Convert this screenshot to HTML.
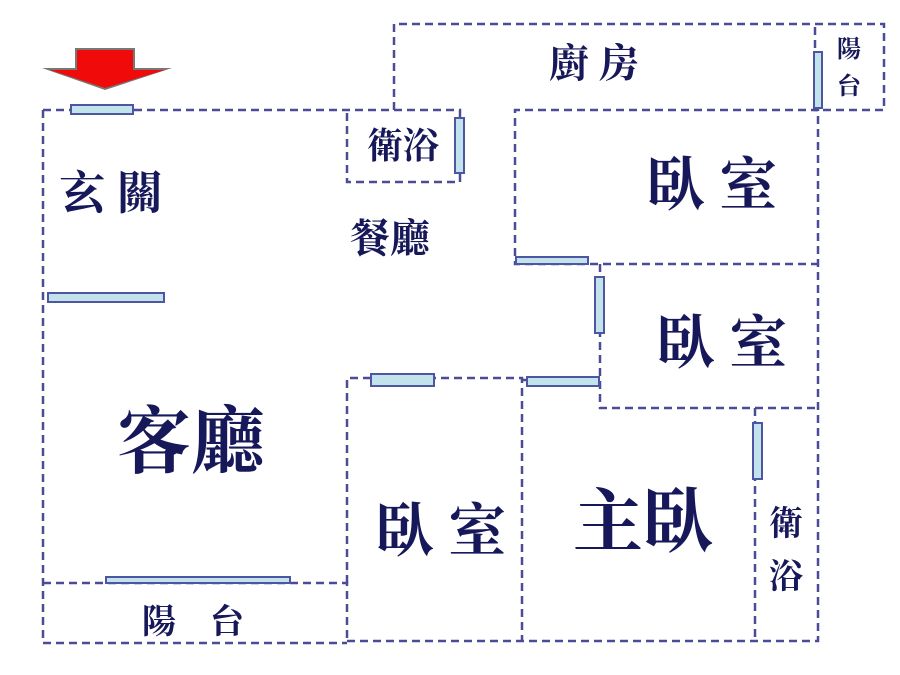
<!DOCTYPE html>
<html><head><meta charset="utf-8"><style>
html,body{margin:0;padding:0;background:#fff;}
svg{display:block}
text{font-family:"Liberation Serif","Noto Serif CJK SC","Noto Serif CJK TC",serif;fill:#17185a;font-weight:bold;text-anchor:middle;}
</style></head><body>
<svg width="900" height="675" viewBox="0 0 900 675" xmlns="http://www.w3.org/2000/svg">
<g fill="none" stroke="#4b4b96" stroke-width="2.5" stroke-dasharray="8,5">
<path d="M43 110 H460 V182 H347 V110"/>
<path d="M43 110 V643 H347"/>
<path d="M43 583 H347 V643"/>
<path d="M347 641 H818 V110 H515 V264 H818"/>
<path d="M394 110 V24 H884 V110 H815 V24"/>
<path d="M600 264 V408 H818"/>
<path d="M755 408 V641"/>
<path d="M347 583 V378 H522 V641"/>
<path d="M522 380 H600"/>
</g>
<g fill="#c3e3ec" stroke="#4e55a3" stroke-width="2">
<rect x="71" y="105" width="62" height="9"/>
<rect x="48" y="293" width="116" height="9"/>
<rect x="455" y="118" width="9" height="55"/>
<rect x="814" y="52" width="8" height="56"/>
<rect x="516" y="257" width="72" height="7"/>
<rect x="595" y="277" width="9" height="56"/>
<rect x="527" y="377" width="72" height="9"/>
<rect x="371" y="374" width="63" height="12"/>
<rect x="753" y="423" width="9" height="56"/>
<rect x="106" y="577" width="184" height="6"/>
</g>
<polygon points="75,48 135,48 135,68 172,68 105,90 42,68 75,68" fill="#777" />
<polygon points="77,50 133,50 133,70 165,70 105,88 50,70 77,70" fill="#f00a0a"/>
<text x="111" y="209" font-size="46">玄 關</text>
<text x="403" y="158" font-size="36">衛浴</text>
<text x="390" y="252" font-size="40">餐廳</text>
<text x="594" y="77" font-size="40">廚 房</text>
<text x="849" y="57" font-size="24">陽</text>
<text x="849" y="94" font-size="24">台</text>
<text x="712" y="205" font-size="58">臥 室</text>
<text x="722" y="363" font-size="58">臥 室</text>
<text x="441" y="551" font-size="58">臥 室</text>
<text x="643" y="546" font-size="70">主臥</text>
<text x="191" y="467" font-size="74">客廳</text>
<text x="786" y="535" font-size="34">衛</text>
<text x="786" y="588" font-size="34">浴</text>
<text x="193" y="633" font-size="34">陽　台</text>
</svg>
</body></html>
